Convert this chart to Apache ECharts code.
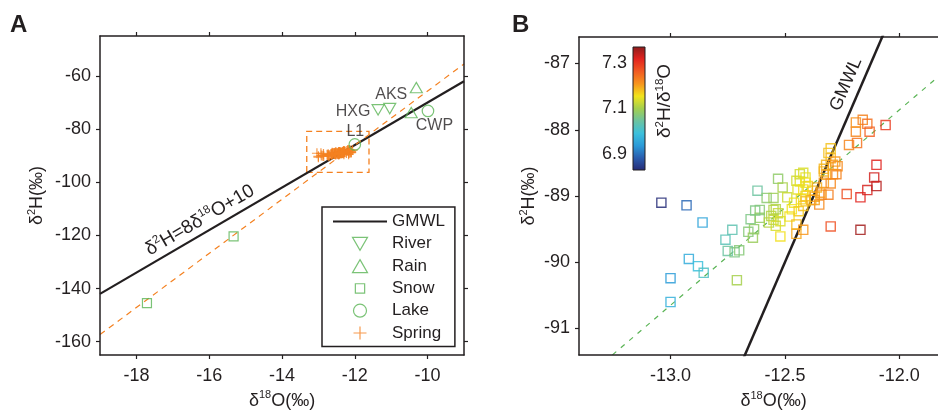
<!DOCTYPE html>
<html>
<head>
<meta charset="utf-8">
<script src="https://cdn.jsdelivr.net/npm/echarts@6/dist/echarts.min.js"></script>
<style>
  html, body { margin: 0; padding: 0; background: #ffffff; }
  #chart { width: 938px; height: 410px; }
</style>
</head>
<body>
<div id="chart"></div>
<script>
// ---- Panel A: water samples, δ18O and δ2H (‰) ----
const riverO = [-11.36, -11.04];
const riverH = [-72.8, -72.3];
const riverSites = ['HXG', 'AKS'];
const rainO = [-10.31, -10.45];
const rainH = [-64.4, -73.8];
const snowO = [-17.71, -15.33];
const snowH = [-145.5, -120.4];
const lakeO = [-9.99, -12.0];
const lakeH = [-73.2, -85.8];
const lakeSites = ['CWP', 'L1'];

// ---- Spring samples (plotted in A, enlarged in B) ----
const springO = [
  -13.04, -12.93, -12.86, -12.92, -13.00, -13.00, -12.88, -12.855, -12.71, -12.62,
  -12.73, -12.76, -12.75, -12.72, -12.70, -12.66, -12.64, -12.65, -12.61, -12.61,
  -12.58, -12.55, -12.53, -12.51, -12.49, -12.54, -12.56, -12.57, -12.54, -12.52,
  -12.48, -12.47, -12.45, -12.42, -12.43, -12.41, -12.40, -12.41, -12.42, -12.45,
  -12.45, -12.42, -12.37, -12.35, -12.38, -12.36, -12.34, -12.31, -12.33, -12.32,
  -12.30, -12.30, -12.32, -12.29, -12.275, -12.27, -12.33, -12.30, -12.345, -12.385,
  -12.30, -12.23, -12.17, -12.14, -12.10, -12.11, -12.10, -12.17, -12.22, -12.185,
  -12.19, -12.19, -12.16, -12.14, -12.13, -12.06,
  -12.63, -12.635, -12.55, -12.53, -12.55, -12.52, -12.435, -12.435, -12.41, -12.445,
  -12.42, -12.31, -12.29, -12.37, -12.41, -12.46, -12.44, -12.28, -12.33
];
const springH = [
  -89.10, -89.14, -89.40, -89.95, -90.24, -90.60, -90.06, -90.16, -90.27, -88.92,
  -89.51, -89.66, -89.83, -89.85, -89.82, -89.54, -89.63, -89.35, -89.21, -89.33,
  -89.03, -89.03, -88.74, -88.87, -89.02, -89.20, -89.30, -89.40, -89.45, -89.61,
  -89.31, -89.20, -88.77, -88.65, -89.05, -88.72, -88.85, -89.00, -89.15, -89.43,
  -89.57, -89.51, -89.01, -89.13, -88.92, -88.87, -88.98, -88.98, -88.59, -88.53,
  -88.43, -88.28, -88.68, -88.67, -88.67, -88.55, -88.80, -88.81, -88.95, -89.06,
  -89.46, -88.97, -89.02, -88.91, -88.85, -88.72, -88.53, -89.51, -88.23, -88.20,
  -88.03, -87.89, -87.85, -87.91, -88.03, -87.93,
  -89.22, -89.50, -89.21, -89.26, -89.36, -89.38, -88.67, -88.78, -88.80, -88.90,
  -88.90, -88.35, -88.53, -89.06, -89.08, -89.10, -89.23, -88.48, -88.63
];

// ---- Reference lines ----
const gmwlSlope = 8, gmwlIntercept = 10;            // δ2H = 8 δ18O + 10
const fitASlope = 10.18, fitAIntercept = 36.1;      // dashed orange line in A
const fitBSlope = 2.95, fitBIntercept = -52.3;      // dashed green line in B
const zoomBoxO = [-13.32, -11.61];                  // spring cluster frame in A
const zoomBoxH = [-96.3, -80.9];

// ---- Axis ranges and ticks ----
const rangeAO = [-19, -9], rangeAH = [-165, -45];
const rangeBO = [-13.4, -11.7], rangeBH = [-91.4, -86.6];
const rangeRatio = [6.83, 7.37];
const ticksAO = [-18, -16, -14, -12, -10];
const ticksAH = [-160, -140, -120, -100, -80, -60];
const ticksBO = [-13.0, -12.5, -12.0];
const ticksBH = [-91, -90, -89, -88, -87];
const ticksRatio = [6.9, 7.1, 7.3];

// jet-like scale for δ2H/δ18O, low to high
const ratioColors = ['#262a75', '#2a5cae', '#2b9ad8', '#3cc0dc', '#6cc3a0', '#a3cf4e',
                     '#f2e41c', '#f7941d', '#f15a22', '#e2231f', '#8b1c1c'];

const INK = '#231f20';
const GREEN = '#5ab455';
const ORANGE = '#f48120';
const FONT = '"Liberation Sans", Arial, Helvetica, sans-serif';

const nameStyle = { color: INK, fontFamily: FONT, fontSize: 18, lineHeight: 22,
                    rich: { s: { fontSize: 11, lineHeight: 11, verticalAlign: 'top', color: INK, fontFamily: FONT } } };

function axis(grid, range, ticks, pos, opts) {
  opts = opts || {};
  return {
    type: 'value', gridIndex: grid, min: range[0], max: range[1], position: pos,
    axisLine: { show: true, onZero: false, lineStyle: { color: INK, width: 1.5 } },
    axisTick: { show: true, inside: false, length: 4, customValues: ticks,
                lineStyle: { color: INK, width: 1.2 } },
    axisLabel: { show: !!opts.labels, customValues: ticks, margin: opts.margin || 9,
                 color: INK, fontFamily: FONT, fontSize: 18, formatter: opts.fmt },
    splitLine: { show: false },
    name: opts.name || '', nameLocation: 'middle', nameGap: opts.nameGap || 0,
    nameTextStyle: nameStyle,
    z: 5
  };
}

const zip = (xs, ys) => xs.map((x, i) => [x, ys[i]]);
const lineAt = (slope, icpt, xs) => xs.map(x => [x, slope * x + icpt]);

const fmtInt = v => String(Math.round(v));
const fmtOne = v => v.toFixed(1);

// symbols
const triDown = 'path://M0,0L10,0L5,8.66Z';
const triUp = 'path://M5,0L10,8.66L0,8.66Z';
const square = 'path://M0,0H10V10H0Z';
const squareLegend = 'path://M-2,-2M12,12M0,0H10V10H0Z';
const plus = 'path://M0,5H10M5,0V10';
const squareRing = 'path://M0,0H10V10H0Z M1.3,1.3V8.7H8.7V1.3Z';
const lineLegend = 'path://M0,0M54,13M0,5.4H54V7.6H0Z';

const hollow = c => ({ color: 'rgba(0,0,0,0)', borderColor: c, borderWidth: 1.2 });
const siteLabel = (text, offset) => ({
  show: true, position: 'inside', offset: offset, formatter: text,
  color: INK, fontFamily: FONT, fontSize: 16
});

const riverData = zip(riverO, riverH).map((p, i) => ({
  value: p, label: siteLabel(riverSites[i], i === 0 ? [-25, 1.5] : [1.5, -13.5])
}));
const lakeData = zip(lakeO, lakeH).map((p, i) => ({
  value: p, label: siteLabel(lakeSites[i], i === 0 ? [6.5, 14.5] : [0.5, -13])
}));
const springB = springO.map((x, i) => [x, springH[i], springH[i] / x]);

const option = {
  animation: false,
  backgroundColor: '#ffffff',
  grid: [
    { left: 100, top: 36, width: 364, height: 319, outerBoundsMode: 'none' },
    { left: 579, top: 37, width: 389, height: 318, outerBoundsMode: 'none' },
    { left: 633, top: 47, width: 12, height: 123, show: true, outerBoundsMode: 'none',
      backgroundColor: new echarts.graphic.LinearGradient(0, 0, 0, 1,
        ratioColors.slice().reverse().map((c, i, a) => ({ offset: i / (a.length - 1), color: c }))),
      borderColor: INK, borderWidth: 1 }
  ],
  xAxis: [
    axis(0, rangeAO, ticksAO, 'bottom', { labels: true, fmt: fmtInt, margin: 12,
         name: 'δ{s|18}O(‰)', nameGap: 27 }),
    axis(0, rangeAO, ticksAO, 'top'),
    axis(1, rangeBO, ticksBO, 'bottom', { labels: true, fmt: fmtOne, margin: 12,
         name: 'δ{s|18}O(‰)', nameGap: 35 }),
    axis(1, rangeBO, ticksBO, 'top'),
    { type: 'value', gridIndex: 2, min: 0, max: 1, show: false }
  ],
  yAxis: [
    axis(0, rangeAH, ticksAH, 'left', { labels: true, fmt: fmtInt, name: 'δ{s|2}H(‰)', nameGap: 52 }),
    axis(0, rangeAH, ticksAH, 'right'),
    axis(1, rangeBH, ticksBH, 'left', { labels: true, fmt: fmtInt, name: 'δ{s|2}H(‰)', nameGap: 37 }),
    axis(1, rangeBH, ticksBH, 'right'),
    {
      type: 'value', gridIndex: 2, min: rangeRatio[0], max: rangeRatio[1], position: 'left',
      axisLine: { show: false }, axisTick: { show: false }, splitLine: { show: false },
      axisLabel: { customValues: ticksRatio, margin: 6, color: INK, fontFamily: FONT,
                   fontSize: 18, formatter: fmtOne }
    }
  ],
  visualMap: {
    type: 'continuous', show: false, seriesIndex: 9, dimension: 2,
    min: rangeRatio[0], max: rangeRatio[1], inRange: { color: ratioColors }
  },
  legend: {
    orient: 'vertical', left: 322, top: 207, padding: [6, 10, 5, 11],
    itemWidth: 54, itemHeight: 13, itemGap: 5.3, selectedMode: false,
    borderColor: INK, borderWidth: 1.5, backgroundColor: '#ffffff',
    textStyle: { color: INK, fontFamily: FONT, fontSize: 17 },
    itemStyle: { borderWidth: 1.2 },
    data: [
      { name: 'GMWL', icon: lineLegend, itemStyle: { color: INK, borderWidth: 0 } },
      { name: 'River', icon: triDown },
      { name: 'Rain', icon: triUp },
      { name: 'Snow', icon: squareLegend },
      { name: 'Lake', icon: 'circle' },
      { name: 'Spring', icon: plus }
    ],
    z: 10
  },
  series: [
    { name: 'GMWL', type: 'line', xAxisIndex: 0, yAxisIndex: 0, symbol: 'none', silent: true,
      color: INK, data: lineAt(gmwlSlope, gmwlIntercept, rangeAO),
      lineStyle: { color: INK, width: 2.2 }, z: 2 },
    { name: 'fit A', type: 'line', xAxisIndex: 0, yAxisIndex: 0, symbol: 'none', silent: true,
      color: ORANGE, data: lineAt(fitASlope, fitAIntercept, rangeAO),
      lineStyle: { color: ORANGE, width: 1.2, type: [6, 5] }, z: 2 },
    { name: 'River', type: 'scatter', xAxisIndex: 0, yAxisIndex: 0, symbol: triDown,
      symbolSize: 12, symbolKeepAspect: true, itemStyle: hollow(GREEN), data: riverData, z: 4 },
    { name: 'Rain', type: 'scatter', xAxisIndex: 0, yAxisIndex: 0, symbol: triUp,
      symbolSize: 12, symbolKeepAspect: true, itemStyle: hollow(GREEN), data: zip(rainO, rainH), z: 4 },
    { name: 'Snow', type: 'scatter', xAxisIndex: 0, yAxisIndex: 0, symbol: square,
      symbolSize: 9, symbolKeepAspect: true, itemStyle: hollow(GREEN), data: zip(snowO, snowH), z: 4 },
    { name: 'Lake', type: 'scatter', xAxisIndex: 0, yAxisIndex: 0, symbol: 'circle',
      symbolSize: 11.5, itemStyle: hollow(GREEN), data: lakeData, z: 4 },
    { name: 'Spring', type: 'scatter', xAxisIndex: 0, yAxisIndex: 0, symbol: plus,
      symbolSize: 10, symbolKeepAspect: true, itemStyle: hollow(ORANGE), data: zip(springO, springH), z: 3,
      markArea: {
        silent: true, label: { show: false },
        itemStyle: { color: 'rgba(0,0,0,0)', borderColor: ORANGE, borderWidth: 1.3, borderType: [6, 4] },
        data: [[{ coord: [zoomBoxO[0], zoomBoxH[0]] }, { coord: [zoomBoxO[1], zoomBoxH[1]] }]]
      } },
    { name: 'GMWL B', type: 'line', xAxisIndex: 2, yAxisIndex: 2, symbol: 'none', silent: true,
      color: INK, data: lineAt(gmwlSlope, gmwlIntercept, rangeBO),
      lineStyle: { color: INK, width: 2.5 }, z: 2 },
    { name: 'fit B', type: 'line', xAxisIndex: 2, yAxisIndex: 2, symbol: 'none', silent: true,
      color: GREEN, data: lineAt(fitBSlope, fitBIntercept, rangeBO),
      lineStyle: { color: GREEN, width: 1.2, type: [5, 6] }, z: 2 },
    { name: 'Spring ratio', type: 'scatter', xAxisIndex: 2, yAxisIndex: 2, symbol: squareRing,
      symbolSize: 10.5, itemStyle: { opacity: 0.85 }, data: springB, z: 4 }
  ]
};

const chart = echarts.init(document.getElementById('chart'));
chart.setOption(option);

// Rotated captions placed along the lines they describe
function alongLine(ax, ay, slope, icpt, x0, offset) {
  const finder = { xAxisIndex: ax, yAxisIndex: ay };
  const p = chart.convertToPixel(finder, [x0, slope * x0 + icpt]);
  const q = chart.convertToPixel(finder, [x0 + 0.1, slope * (x0 + 0.1) + icpt]);
  const dx = q[0] - p[0], dy = q[1] - p[1];
  const len = Math.hypot(dx, dy);
  const nx = dy / len, ny = -dx / len;           // normal pointing up-left
  return { x: p[0] + nx * offset, y: p[1] + ny * offset, rotation: Math.atan2(-dy, dx) };
}

const eq = alongLine(0, 0, gmwlSlope, gmwlIntercept, -16.07, 13);
const gm = alongLine(2, 2, gmwlSlope, gmwlIntercept, -12.175, 14.4);
const textBase = { fill: INK, fontFamily: FONT, align: 'center', verticalAlign: 'middle' };
const supStyle = { fontSize: 11.5, lineHeight: 11, verticalAlign: 'top', fill: INK, fontFamily: FONT };

chart.setOption({
  graphic: [
    { type: 'text', left: 10, top: 13, z: 20,
      style: { text: 'A', fill: INK, fontFamily: FONT, fontSize: 24, fontWeight: 'bold' } },
    { type: 'text', left: 512, top: 13, z: 20,
      style: { text: 'B', fill: INK, fontFamily: FONT, fontSize: 24, fontWeight: 'bold' } },
    { type: 'text', x: eq.x, y: eq.y, rotation: eq.rotation, z: 20,
      style: Object.assign({}, textBase, { text: 'δ{s|2}H=8δ{s|18}O+10', fontSize: 19, lineHeight: 23,
        rich: { s: supStyle } }) },
    { type: 'text', x: gm.x, y: gm.y, rotation: gm.rotation, z: 20,
      style: Object.assign({}, textBase, { text: 'GMWL', fontSize: 18 }) },
    { type: 'text', x: 665, y: 101, rotation: Math.PI / 2, z: 20,
      style: Object.assign({}, textBase, { text: 'δ{s|2}H/δ{s|18}O', fontSize: 19, lineHeight: 23,
        rich: { s: supStyle } }) }
  ]
});
</script>
</body>
</html>
